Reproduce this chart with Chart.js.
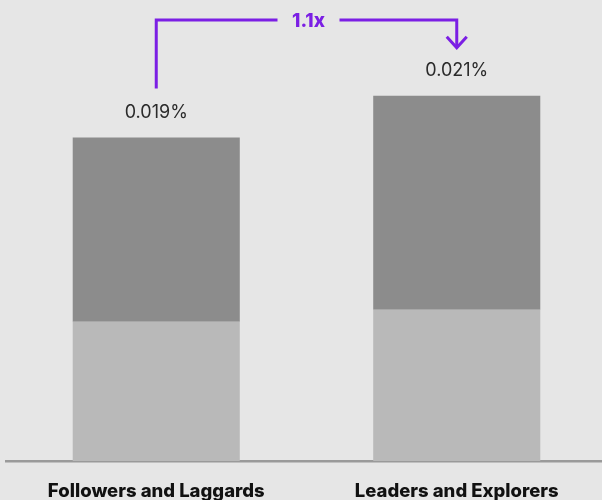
<!DOCTYPE html>
<html>
<head>
<meta charset="utf-8">
<script src="https://cdn.jsdelivr.net/npm/chart.js@4"></script>
<style>
  html, body { margin: 0; padding: 0; background: #e6e6e6; overflow: hidden; }
  #wrap { width: 607px; height: 500px; }
</style>
</head>
<body>
<div id="wrap"><canvas id="chart"></canvas></div>
<script>
const categories = ['Followers and Laggards', 'Leaders and Explorers'];
const lowerValues = [0.0080, 0.0087];
const upperValues = [0.0106, 0.0123];
const totalLabels = ['0.019%', '0.021%'];
const ratioLabel = '1.1x';

const PURPLE = '#7b1fe4';
const FONT = 'Inter, "Noto Sans", sans-serif';

// value labels above each stacked bar
const totalsPlugin = {
  id: 'totals',
  afterDatasetsDraw(chart) {
    const ctx = chart.ctx;
    const top = chart.getDatasetMeta(1).data;
    ctx.save();
    ctx.fillStyle = '#2b2b2b';
    ctx.font = '18px ' + FONT;
    ctx.textAlign = 'center';
    ctx.textBaseline = 'middle';
    top.forEach((bar, i) => {
      ctx.fillText(totalLabels[i], bar.x, bar.y - 25);
    });
    ctx.restore();
  }
};

// purple bracket with arrow and multiplier
const bracketPlugin = {
  id: 'bracket',
  afterDatasetsDraw(chart) {
    const ctx = chart.ctx;
    const top = chart.getDatasetMeta(1).data;
    const a = top[0], b = top[1];
    const lineY = 20;
    const startY = a.y - 49;
    const tipY = b.y - 48;
    const midX = (a.x + b.x) / 2;
    const gap = 31;

    ctx.save();
    ctx.strokeStyle = PURPLE;
    ctx.lineWidth = 3;
    ctx.lineCap = 'butt';
    ctx.lineJoin = 'miter';

    ctx.beginPath();
    ctx.moveTo(a.x, startY);
    ctx.lineTo(a.x, lineY);
    ctx.lineTo(midX - gap + 2, lineY);
    ctx.stroke();

    ctx.beginPath();
    ctx.moveTo(midX + gap + 2, lineY);
    ctx.lineTo(b.x, lineY);
    ctx.lineTo(b.x, tipY);
    ctx.stroke();

    ctx.beginPath();
    ctx.moveTo(b.x - 10, tipY - 11);
    ctx.lineTo(b.x, tipY);
    ctx.lineTo(b.x + 10, tipY - 11);
    ctx.stroke();

    ctx.fillStyle = PURPLE;
    ctx.font = '800 19px ' + FONT;
    ctx.textAlign = 'center';
    ctx.textBaseline = 'middle';
    ctx.fillText(ratioLabel, midX + 2, lineY + 1);
    ctx.restore();
  }
};

new Chart(document.getElementById('chart'), {
  type: 'bar',
  data: {
    labels: categories,
    datasets: [
      {
        data: lowerValues,
        backgroundColor: '#b9b9b9',
        borderWidth: 0
      },
      {
        data: upperValues,
        backgroundColor: '#8c8c8c',
        borderWidth: 0
      }
    ]
  },
  options: {
    responsive: true,
    maintainAspectRatio: false,
    animation: false,
    layout: { padding: { left: 6, right: 0, top: 0, bottom: 0 } },
    plugins: {
      legend: { display: false },
      tooltip: { enabled: false }
    },
    datasets: {
      bar: { barPercentage: 1, categoryPercentage: 0.556 }
    },
    scales: {
      x: {
        stacked: true,
        grid: { display: false, drawTicks: false },
        border: { display: true, color: '#9a9a9a', width: 2.5 },
        ticks: {
          color: '#111111',
          font: { family: FONT, size: 18.5, weight: 800 },
          padding: 19,
          maxRotation: 0
        },
        afterFit(scale) { scale.height = 39; }
      },
      y: {
        stacked: true,
        display: false,
        min: 0,
        max: 0.0265
      }
    }
  },
  plugins: [totalsPlugin, bracketPlugin]
});
</script>
</body>
</html>
